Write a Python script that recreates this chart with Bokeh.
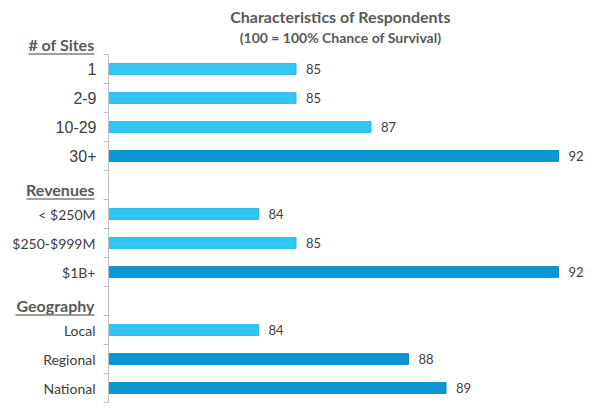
from bokeh.plotting import figure
from bokeh.models import Range1d, FixedTicker, LabelSet, Label, ColumnDataSource, BoxAnnotation
from bokeh.embed import file_html
from bokeh.resources import INLINE
from bokeh.core.properties import value

# ---- data ----
title_text = "Characteristics of Respondents"
subtitle_text = "(100 = 100% Chance of Survival)"
group_names = ["# of Sites", "Revenues", "Geography"]
site_labels = ["1", "2-9", "10-29", "30+"]
site_values = [85, 85, 87, 92]
site_dark = [False, False, False, True]
revenue_labels = ["< $250M", "$250-$999M", "$1B+"]
revenue_values = [84, 85, 92]
revenue_dark = [False, False, True]
geo_labels = ["Local", "Regional", "National"]
geo_values = [84, 88, 89]
geo_dark = [False, True, True]

groups = [
    (site_labels, site_values, site_dark),
    (revenue_labels, revenue_values, revenue_dark),
    (geo_labels, geo_values, geo_dark),
]

# ---- style ----
LIGHT, LIGHT_EDGE = "#33C6F3", "#20B6E8"
DARK, DARK_EDGE = "#0B96D6", "#0985C2"
LABEL_COLOR = "#404040"
HEAD_COLOR = "#595959"
FONT = "Lato"

W, H = 592, 410
LEFT_PAD = 12           # left panel holding the axis ticks
AXIS_PX = 108           # pixel where the value axis (80) sits
TOP_PX, ROW_PX = 54, 29 # first row top and row height (px)
X_BASE = 80
PX_PER_X = 37.5

# ---- build rows ----
rows_y, rows_lab, rows_val, rows_fill, rows_edge = [], [], [], [], []
head_y = []
r = 0
for gi, (labs, vals, dark) in enumerate(groups):
    if gi > 0:
        r += 1
    head_y.append(r - 0.33)
    for lab, v, d in zip(labs, vals, dark):
        rows_y.append(r + 0.5)
        rows_lab.append(lab)
        rows_val.append(v)
        rows_fill.append(DARK if d else LIGHT)
        rows_edge.append(DARK_EDGE if d else LIGHT_EDGE)
        r += 1
N_ROWS = r

x_start = X_BASE - (AXIS_PX - LEFT_PAD) / PX_PER_X
x_end = X_BASE + (W - AXIS_PX) / PX_PER_X
y_top = -TOP_PX / ROW_PX
y_bottom = (H - TOP_PX) / ROW_PX

src = ColumnDataSource(dict(y=rows_y, lab=rows_lab, v=rows_val,
                            vtxt=[str(v) for v in rows_val],
                            fill=rows_fill, edge=rows_edge, x0=[X_BASE] * len(rows_y)))

p = figure(width=W, height=H, x_range=Range1d(x_start, x_end), y_range=Range1d(y_bottom, y_top),
           output_backend="svg", toolbar_location=None, x_axis_location=None,
           min_border_left=LEFT_PAD, min_border_right=0, min_border_top=0, min_border_bottom=0)
p.outline_line_color = None
p.xgrid.visible = False
p.ygrid.visible = False
p.background_fill_color = "white"

ax = p.yaxis[0]
ax.fixed_location = X_BASE
ax.bounds = (0, N_ROWS)
ax.ticker = FixedTicker(ticks=list(range(N_ROWS + 1)), minor_ticks=[])
ax.major_label_overrides = {i: "" for i in range(N_ROWS + 1)}
ax.major_label_text_font_size = "0px"
ax.major_label_standoff = 0
ax.axis_line_color = "#BFBFBF"
ax.major_tick_line_color = "#BFBFBF"
ax.major_tick_out = 5
ax.major_tick_in = 0
ax.minor_tick_line_color = None

p.hbar(y="y", left="x0", right="v", height=0.37, fill_color="fill", line_color="edge",
       line_width=1, source=src)

# category labels
ns = len(site_labels)
site_src = ColumnDataSource(dict(y=rows_y[:ns], lab=rows_lab[:ns], x=[X_BASE] * ns))
other_src = ColumnDataSource(dict(y=rows_y[ns:], lab=rows_lab[ns:], x=[X_BASE] * (len(rows_y) - ns)))
p.add_layout(LabelSet(x="x", y="y", text="lab", source=site_src, x_offset=-12,
                      text_align="right", text_baseline="middle",
                      text_font=value("Liberation Sans"), text_font_size="16px",
                      text_color=LABEL_COLOR))
p.add_layout(LabelSet(x="x", y="y", text="lab", source=other_src, x_offset=-13,
                      text_align="right", text_baseline="middle",
                      text_font=value(FONT), text_font_size="14px",
                      text_color=LABEL_COLOR))

# value labels
p.add_layout(LabelSet(x="v", y="y", text="vtxt", source=src, x_offset=10,
                      text_align="left", text_baseline="middle",
                      text_font=value(FONT), text_font_size="13px",
                      text_color=LABEL_COLOR))

# group headers with underline
head_widths = [66, 68, 79]
head_src = ColumnDataSource(dict(y=head_y, lab=group_names, x=[X_BASE] * len(head_y)))
p.add_layout(LabelSet(x="x", y="y", text="lab", source=head_src, x_offset=-14,
                      text_align="right", text_baseline="middle",
                      text_font=value(FONT), text_font_size="16px", text_font_style="bold",
                      text_color=HEAD_COLOR))
for hy, w in zip(head_y, head_widths):
    right = X_BASE - 14 / PX_PER_X
    left = right - w / PX_PER_X
    uy = hy + 9 / ROW_PX
    p.add_layout(BoxAnnotation(left=left, right=right, top=uy - 0.8 / ROW_PX, bottom=uy + 0.8 / ROW_PX,
                               fill_color="#7F7F7F", fill_alpha=1, line_color=None))

# titles
tx = X_BASE + (340 - AXIS_PX) / PX_PER_X
p.add_layout(Label(x=tx, y=(16 - TOP_PX) / ROW_PX, text=title_text, text_align="center",
                   text_baseline="middle", text_font=FONT, text_font_size="16px",
                   text_font_style="bold", text_color=HEAD_COLOR))
p.add_layout(Label(x=tx, y=(37 - TOP_PX) / ROW_PX, text=subtitle_text, text_align="center",
                   text_baseline="middle", text_font=FONT, text_font_size="14px",
                   text_font_style="bold", text_color=HEAD_COLOR))

open("out.html", "w").write(file_html(p, INLINE))
